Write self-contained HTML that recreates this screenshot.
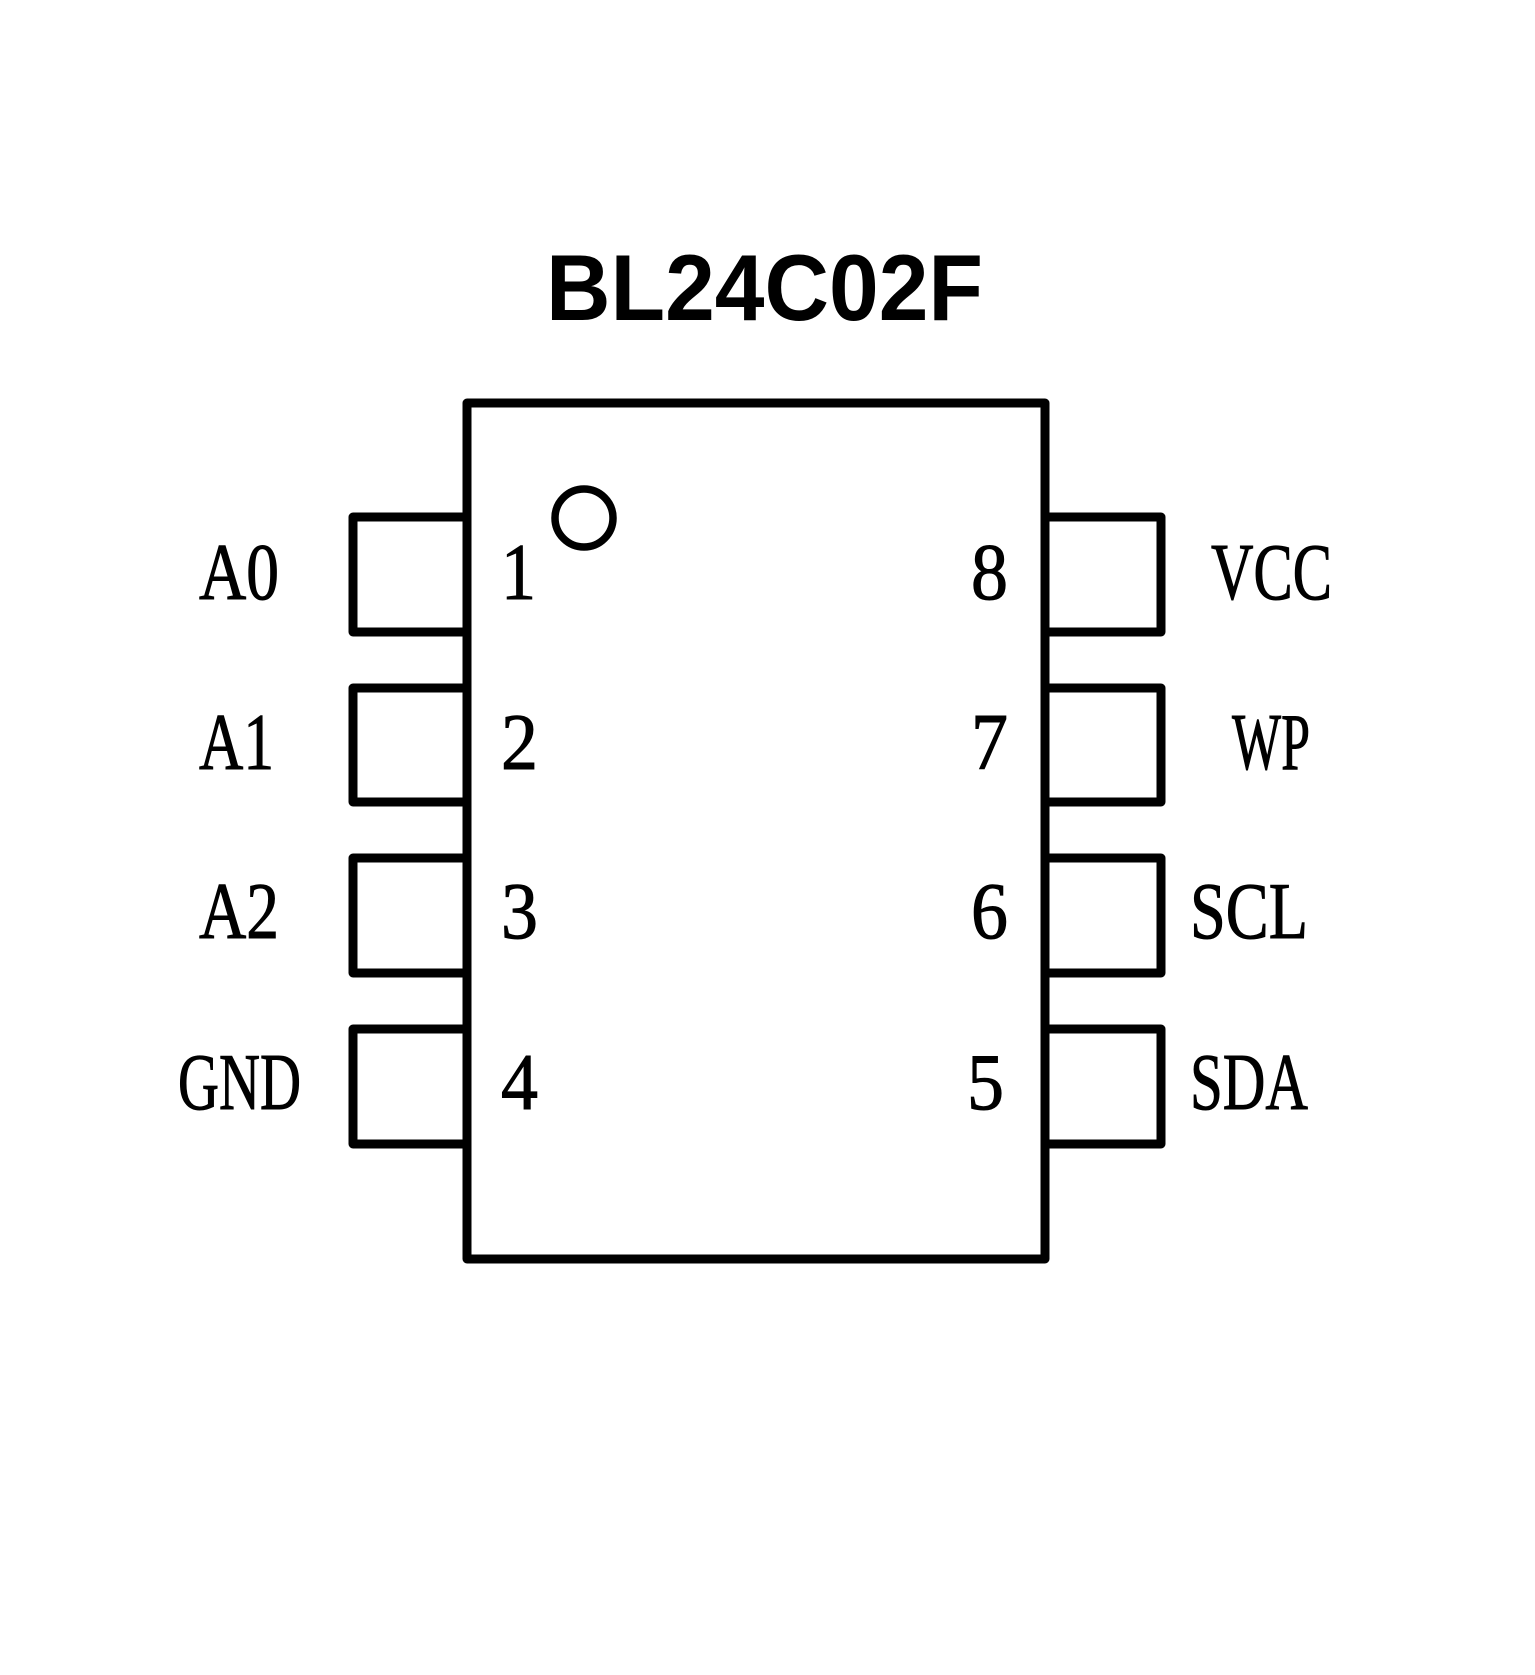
<!DOCTYPE html>
<html><head><meta charset="utf-8"><style>html,body{margin:0;padding:0;background:#fff}svg{display:block}</style></head>
<body>
<svg width="1535" height="1675" viewBox="0 0 1535 1675" xmlns="http://www.w3.org/2000/svg">
<rect x="0" y="0" width="1535" height="1675" fill="#fff"/>
<text x="546" y="320" font-family="Liberation Sans, sans-serif" font-weight="bold" font-size="94" textLength="437" lengthAdjust="spacingAndGlyphs">BL24C02F</text>
<g fill="none" stroke="#000" stroke-width="9" stroke-linejoin="round" stroke-linecap="round">
<rect x="467" y="403" width="578" height="856"/>
<polyline points="467,517 353,517 353,632 467,632"/>
<polyline points="467,688 353,688 353,802 467,802"/>
<polyline points="467,858 353,858 353,973 467,973"/>
<polyline points="467,1029 353,1029 353,1144 467,1144"/>
<polyline points="1045,517 1161,517 1161,632 1045,632"/>
<polyline points="1045,688 1161,688 1161,802 1045,802"/>
<polyline points="1045,858 1161,858 1161,973 1045,973"/>
<polyline points="1045,1029 1161,1029 1161,1144 1045,1144"/>
<circle cx="584" cy="518" r="29" stroke-width="7.5"/>
</g>
<g font-family="Liberation Serif, serif" font-size="80" fill="#000" stroke="#000" stroke-width="1">
<text x="199" y="599" textLength="80" lengthAdjust="spacingAndGlyphs">A0</text>
<text x="199" y="769" textLength="75" lengthAdjust="spacingAndGlyphs">A1</text>
<text x="199" y="938" textLength="80" lengthAdjust="spacingAndGlyphs">A2</text>
<text x="178" y="1109" textLength="123" lengthAdjust="spacingAndGlyphs">GND</text>
<text x="501" y="599" textLength="35" lengthAdjust="spacingAndGlyphs">1</text>
<text x="501" y="769" textLength="37" lengthAdjust="spacingAndGlyphs">2</text>
<text x="501" y="938" textLength="37" lengthAdjust="spacingAndGlyphs">3</text>
<text x="501" y="1109" textLength="37" lengthAdjust="spacingAndGlyphs">4</text>
<text x="971" y="599" textLength="37" lengthAdjust="spacingAndGlyphs">8</text>
<text x="971" y="769" textLength="37" lengthAdjust="spacingAndGlyphs">7</text>
<text x="971" y="938" textLength="37" lengthAdjust="spacingAndGlyphs">6</text>
<text x="967" y="1109" textLength="37" lengthAdjust="spacingAndGlyphs">5</text>
<text x="1211" y="599" textLength="121" lengthAdjust="spacingAndGlyphs">VCC</text>
<text x="1232" y="769" textLength="78" lengthAdjust="spacingAndGlyphs">WP</text>
<text x="1190" y="938" textLength="118" lengthAdjust="spacingAndGlyphs">SCL</text>
<text x="1190" y="1109" textLength="118" lengthAdjust="spacingAndGlyphs">SDA</text>
</g>
</svg>
</body></html>
